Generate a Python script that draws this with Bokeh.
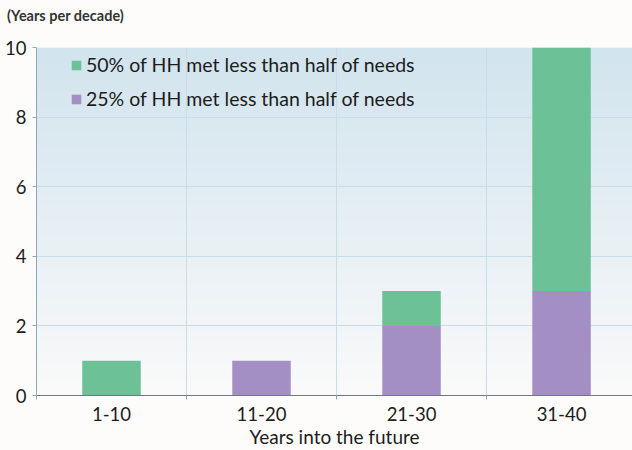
import numpy as np
from bokeh.plotting import figure
from bokeh.layouts import column
from bokeh.models import ColumnDataSource, FixedTicker, Legend, LegendItem, Div
from bokeh.embed import file_html
from bokeh.resources import INLINE

# Decades into the future and years per decade for each severity level
periods = ["1-10", "11-20", "21-30", "31-40"]
quarter_hh = [0, 1, 2, 3]      # 25% of HH met less than half of needs
half_hh = [1, 0, 1, 7]         # 50% of HH met less than half of needs (stacked on top)
y_ticks = [0, 2, 4, 6, 8, 10]

FONT = "Lato"
TEXT = "#1c1c1c"
GREEN = "#6cc196"
PURPLE = "#a48fc4"
PAPER = "#fdfcfb"

centers = [i + 0.5 for i in range(len(periods))]
bottom_top = [q + h for q, h in zip(quarter_hh, half_hh)]
src = ColumnDataSource(dict(x=centers, q=quarter_hh, top=bottom_top, zero=[0] * len(periods)))

p = figure(width=632, height=420, x_range=(0, 3.973), y_range=(0, 10),
           output_backend="svg", toolbar_location=None,
           min_border_left=36, min_border_right=0, min_border_top=17, min_border_bottom=55)
p.background_fill_color = PAPER
p.border_fill_color = PAPER
p.outline_line_color = None
p.margin = (0, 0, 0, 0)

# soft blue-to-white vertical wash behind the plot area
n = 64
t = np.linspace(0, 1, n)[:, None]
top_c = np.array([210, 228, 238])
bot_c = np.array([250, 250, 250])
cols = (bot_c * (1 - t) + top_c * t).astype(np.uint32)
img = np.empty((n, 2), dtype=np.uint32)
view = img.view(dtype=np.uint8).reshape((n, 2, 4))
view[:, :, 0] = cols[:, 0:1]
view[:, :, 1] = cols[:, 1:2]
view[:, :, 2] = cols[:, 2:3]
view[:, :, 3] = 255
p.image_rgba(image=[img], x=0, y=0, dw=4, dh=10, level="image")

r_q = p.vbar(x="x", bottom="zero", top="q", width=0.39, source=src,
             fill_color=PURPLE, line_color=None)
r_h = p.vbar(x="x", bottom="q", top="top", width=0.39, source=src,
             fill_color=GREEN, line_color=None)

# grid
p.xgrid.ticker = FixedTicker(ticks=[1, 2, 3])
p.ygrid.ticker = FixedTicker(ticks=y_ticks)
for g in (p.xgrid, p.ygrid):
    g.grid_line_color = "#c9dde8"
    g.grid_line_width = 1

# x axis: labels at bar centres, small ticks on decade boundaries
p.xaxis.ticker = FixedTicker(ticks=centers, minor_ticks=[0, 1, 2, 3])
p.xaxis.major_label_overrides = {c: lab for c, lab in zip(centers, periods)}
p.xaxis.major_tick_out = 0
p.xaxis.major_tick_in = 0
p.xaxis.minor_tick_out = 4
p.xaxis.minor_tick_in = 0
p.xaxis.minor_tick_line_color = "#8fa8b8"
p.xaxis.axis_line_color = "#6e7a80"
p.xaxis.major_label_standoff = 7
p.xaxis.axis_label = "Years into the future"
p.xaxis.axis_label_standoff = 1

p.yaxis.ticker = FixedTicker(ticks=y_ticks)
p.yaxis.major_tick_out = 4
p.yaxis.major_tick_in = 0
p.yaxis.minor_tick_line_color = None
p.yaxis.major_tick_line_color = "#8fa8b8"
p.yaxis.axis_line_color = "#8fa8b8"
p.yaxis.major_label_standoff = 6

for ax in (p.xaxis, p.yaxis):
    ax.major_label_text_font = FONT
    ax.major_label_text_font_size = "18.5px"
    ax.major_label_text_color = TEXT
    ax.axis_label_text_font = FONT
    ax.axis_label_text_font_size = "19px"
    ax.axis_label_text_font_style = "normal"
    ax.axis_label_text_color = TEXT

legend = Legend(items=[
    LegendItem(label="50% of HH met less than half of needs", renderers=[r_h]),
    LegendItem(label="25% of HH met less than half of needs", renderers=[r_q]),
], location=(34, 285))
legend.background_fill_alpha = 0
legend.border_line_color = None
legend.margin = 0
legend.padding = 0
legend.spacing = 11
legend.glyph_width = 12
legend.glyph_height = 12
legend.label_height = 20
legend.label_standoff = 4
legend.label_text_font = FONT
legend.label_text_font_size = "19.5px"
legend.label_text_color = TEXT
p.add_layout(legend)

# unit note above the value axis
note = Div(text="(Years per decade)", width=632, height=30, margin=(0, 0, 0, 0),
           styles={"background-color": PAPER, "font-family": FONT, "font-size": "14.5px",
                   "font-weight": "bold", "color": "#333333", "padding-left": "7px",
                   "padding-top": "6px", "box-sizing": "border-box"})

layout = column(note, p, spacing=0, margin=(0, 0, 0, 0), styles={"background-color": PAPER})

open("out.html", "w").write(file_html(layout, INLINE))
